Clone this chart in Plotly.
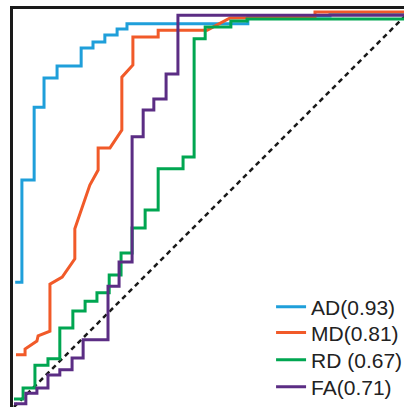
import plotly.graph_objects as go

# ROC curves (false positive rate, true positive rate)
AD_fpr = [0.003, 0.020, 0.020, 0.051, 0.051, 0.076, 0.076, 0.109, 0.109, 0.170, 0.170, 0.200,
          0.200, 0.230, 0.230, 0.261, 0.261, 0.286, 0.286, 0.592, 0.592, 0.800, 0.800, 1.0]
AD_tpr = [0.316, 0.316, 0.575, 0.575, 0.759, 0.759, 0.833, 0.833, 0.863, 0.863, 0.909, 0.909,
          0.924, 0.924, 0.942, 0.942, 0.957, 0.957, 0.970, 0.970, 0.990, 0.990, 0.997, 0.997]

MD_fpr = [0.005, 0.028, 0.028, 0.058, 0.061, 0.091, 0.091, 0.122, 0.154, 0.154, 0.192, 0.213,
          0.213, 0.243, 0.273, 0.273, 0.301, 0.301, 0.365, 0.365, 0.489, 0.547, 0.762, 0.762, 1.0]
MD_tpr = [0.132, 0.132, 0.147, 0.167, 0.180, 0.192, 0.311, 0.329, 0.375, 0.451, 0.562, 0.600,
          0.656, 0.656, 0.701, 0.835, 0.866, 0.937, 0.937, 0.954, 0.954, 0.985, 0.987, 1.0, 1.0]

RD_fpr = [0.0, 0.023, 0.023, 0.053, 0.053, 0.086, 0.086, 0.116, 0.116, 0.149, 0.149, 0.180,
          0.180, 0.210, 0.210, 0.241, 0.241, 0.271, 0.271, 0.299, 0.299, 0.332, 0.332, 0.365,
          0.365, 0.428, 0.428, 0.456, 0.456, 0.484, 0.484, 0.549, 0.549, 0.590, 0.590, 1.0]
RD_tpr = [0.020, 0.020, 0.048, 0.048, 0.106, 0.106, 0.122, 0.122, 0.200, 0.200, 0.243, 0.243,
          0.268, 0.268, 0.289, 0.289, 0.334, 0.334, 0.390, 0.390, 0.453, 0.453, 0.499, 0.499,
          0.603, 0.603, 0.633, 0.633, 0.932, 0.932, 0.962, 0.962, 0.977, 0.977, 0.982, 0.982]

FA_fpr = [0.0, 0.030, 0.030, 0.058, 0.058, 0.086, 0.086, 0.116, 0.116, 0.147, 0.147, 0.175,
          0.175, 0.238, 0.238, 0.266, 0.266, 0.299, 0.299, 0.327, 0.327, 0.354, 0.354, 0.385,
          0.385, 0.415, 0.415, 1.0]
FA_tpr = [0.008, 0.008, 0.035, 0.035, 0.048, 0.048, 0.081, 0.081, 0.094, 0.094, 0.124, 0.124,
          0.170, 0.170, 0.306, 0.306, 0.367, 0.367, 0.684, 0.684, 0.752, 0.752, 0.780, 0.780,
          0.843, 0.843, 0.992, 0.992]

CHANCE = [0.0, 1.0]

NAMES = ["AD(0.93)", "MD(0.81)", "RD (0.67)", "FA(0.71)"]
COLORS = ["#1f9fda", "#f15a29", "#00a651", "#5b2d84"]

fig = go.Figure()
series = [(AD_fpr, AD_tpr), (MD_fpr, MD_tpr), (RD_fpr, RD_tpr), (FA_fpr, FA_tpr)]
legend_ids = ["legend", "legend2", "legend3", "legend4"]
legend_rows = [0.251, 0.186, 0.118, 0.050]  # paper-y of each legend row

fig.add_trace(go.Scatter(x=CHANCE, y=CHANCE, mode="lines", showlegend=False,
                         line=dict(color="#1a1a1a", width=2.5, dash="5px,4px")))

for (fx, ty), name, col, lid in zip(series, NAMES, COLORS, legend_ids):
    fig.add_trace(go.Scatter(x=fx, y=ty, mode="lines", name=name, legend=lid,
                             line=dict(color=col, width=3)))

legend_style = dict(x=0.66, xanchor="left", yanchor="middle",
                    bgcolor="rgba(0,0,0,0)", borderwidth=0,
                    font=dict(size=21, color="#222222"), itemwidth=30)

fig.update_layout(
    width=404, height=407,
    margin=dict(l=13, r=0, t=9, b=0, autoexpand=False),
    paper_bgcolor="white", plot_bgcolor="white",
    font=dict(family="Arial, Liberation Sans, sans-serif", color="#222222"),
    xaxis=dict(range=[-1 / 395, 390 / 395], showgrid=False, zeroline=False,
               showticklabels=False, ticks="", showline=True, mirror=True,
               linecolor="#1a1a1a", linewidth=2.5),
    yaxis=dict(range=[0, 398 / 395], showgrid=False, zeroline=False,
               showticklabels=False, ticks="", showline=True, mirror=True,
               linecolor="#1a1a1a", linewidth=2.5),
)
for lid, ly in zip(legend_ids, legend_rows):
    fig.update_layout({lid: dict(legend_style, y=ly)})

fig.write_html("out.html",
               config={"displayModeBar": False},
               post_script="document.body.style.margin='0';"
                           "document.body.style.overflow='hidden';")
